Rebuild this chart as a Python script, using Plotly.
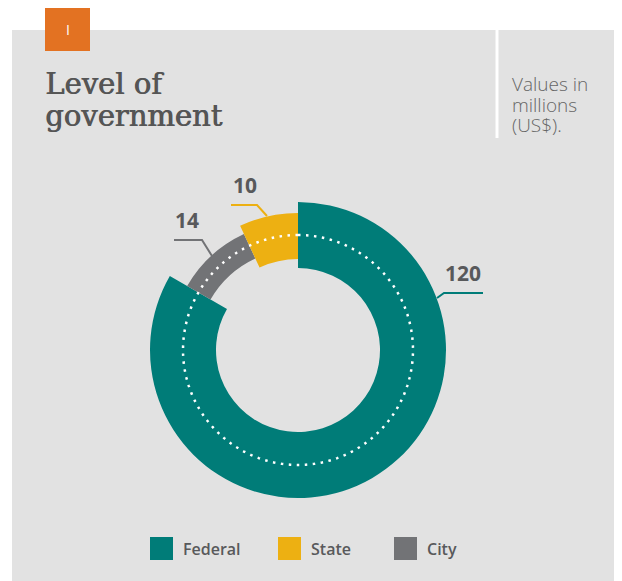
import plotly.graph_objects as go

# ---- data ----
categories = ["Federal", "City", "State"]          # clockwise from 12 o'clock
values = [120, 14, 10]
colors = ["#007C78", "#727376", "#EDB012"]
legend_order = ["Federal", "State", "City"]

OFF = 8                      # page body margin in the browser
W, H = 622 - OFF, 581 - OFF
def X(px): return (px - OFF) / W
def Y(py): return 1 - (py - OFF) / H

# ring geometry (style) per category: inner / outer radius
inner_r = {"Federal": 82, "City": 101, "State": 91}
outer_r = {"Federal": 148, "City": 128, "State": 137}

total = sum(values)
thetas, widths = [], []
acc = 0
for v in values:
    w = v / total * 360
    thetas.append(acc + w / 2)
    widths.append(w)
    acc += w

fig = go.Figure()
fig.add_trace(go.Barpolar(
    theta=thetas,
    width=widths,
    base=[inner_r[c] for c in categories],
    r=[outer_r[c] - inner_r[c] for c in categories],
    marker=dict(color=colors, line=dict(width=0)),
    hoverinfo="skip",
    showlegend=False,
))
# dotted guide circle
circ_theta = list(range(0, 361, 2))
fig.add_trace(go.Scatterpolar(
    theta=circ_theta, r=[115] * len(circ_theta), mode="lines",
    line=dict(color="white", width=2.5, dash="2.5px,5.5px"),
    hoverinfo="skip", showlegend=False,
))

cx, cy, R = 298, 350, 150
fig.update_layout(
    width=W, height=H,
    margin=dict(l=0, r=0, t=0, b=0),
    paper_bgcolor="white",
    plot_bgcolor="rgba(0,0,0,0)",
    polar=dict(
        domain=dict(x=[X(cx - R), X(cx + R)], y=[Y(cy + R), Y(cy - R)]),
        bgcolor="rgba(0,0,0,0)",
        hole=0,
        angularaxis=dict(direction="clockwise", rotation=90, visible=False),
        radialaxis=dict(range=[0, R], visible=False),
    ),
    showlegend=False,
)

shapes = []
annots = []
# gray panel
shapes.append(dict(type="rect", xref="paper", yref="paper", layer="below",
                   x0=X(12), x1=X(640), y0=Y(600), y1=Y(30),
                   fillcolor="#E2E2E2", line=dict(width=0)))
# white divider
shapes.append(dict(type="line", xref="paper", yref="paper",
                   x0=X(497), x1=X(497), y0=Y(30), y1=Y(138),
                   line=dict(color="white", width=3)))
# orange tab
shapes.append(dict(type="rect", xref="paper", yref="paper",
                   x0=X(45), x1=X(90), y0=Y(51), y1=Y(8),
                   fillcolor="#E37222", line=dict(width=0)))
annots.append(dict(x=X(67.5), y=Y(30), xref="paper", yref="paper", text="I",
                   showarrow=False, xanchor="center", yanchor="middle",
                   font=dict(family="Open Sans", size=14, color="white")))

# title
title_font = dict(family="DejaVu Serif", size=29, color="#555555", weight=400,
                  shadow="0.8px 0px 0px #555555")
annots.append(dict(x=X(43), y=Y(84), xref="paper", yref="paper", text="Level of",
                   showarrow=False, xanchor="left", yanchor="middle", font=title_font))
annots.append(dict(x=X(43), y=Y(116), xref="paper", yref="paper", text="government",
                   showarrow=False, xanchor="left", yanchor="middle", font=title_font))

# units note
note_font = dict(family="Open Sans", size=19, color="#666666", weight=300)
for txt, yy in [("Values in", 84), ("millions", 105), ("(US$).", 125)]:
    annots.append(dict(x=X(510), y=Y(yy), xref="paper", yref="paper", text=txt,
                       showarrow=False, xanchor="left", yanchor="middle", font=note_font))

# value labels with leader lines
lab_font = dict(family="Open Sans", size=21, color="#58595B", weight=700)
val_of = dict(zip(categories, values))
col_of = dict(zip(categories, colors))
label_pos = {"Federal": (463, 273), "State": (245, 185), "City": (187, 220)}
leaders = {
    "Federal": [(437, 298), (444, 293), (483, 293)],
    "State": [(267, 216), (257, 205), (231, 205)],
    "City": [(212, 256), (202, 240), (174, 240)],
}
for c in categories:
    lx, ly = label_pos[c]
    annots.append(dict(x=X(lx), y=Y(ly), xref="paper", yref="paper", text=str(val_of[c]),
                       showarrow=False, xanchor="center", yanchor="middle", font=lab_font))
    pts = leaders[c]
    path = "M " + " L ".join(f"{X(px):.5f},{Y(py):.5f}" for px, py in pts)
    shapes.append(dict(type="path", xref="paper", yref="paper", path=path,
                       line=dict(color=col_of[c], width=2)))

# legend
leg_font = dict(family="Open Sans", size=16, color="#58595B", weight=600)
leg_x = {"Federal": 150, "State": 278, "City": 394}
for c in legend_order:
    x0 = leg_x[c]
    shapes.append(dict(type="rect", xref="paper", yref="paper",
                       x0=X(x0), x1=X(x0 + 23), y0=Y(560), y1=Y(537),
                       fillcolor=col_of[c], line=dict(width=0)))
    annots.append(dict(x=X(x0 + 31), y=Y(549), xref="paper", yref="paper", text=c,
                       showarrow=False, xanchor="left", yanchor="middle", font=leg_font))

fig.update_layout(shapes=shapes, annotations=annots)
fig.write_html("out.html")
